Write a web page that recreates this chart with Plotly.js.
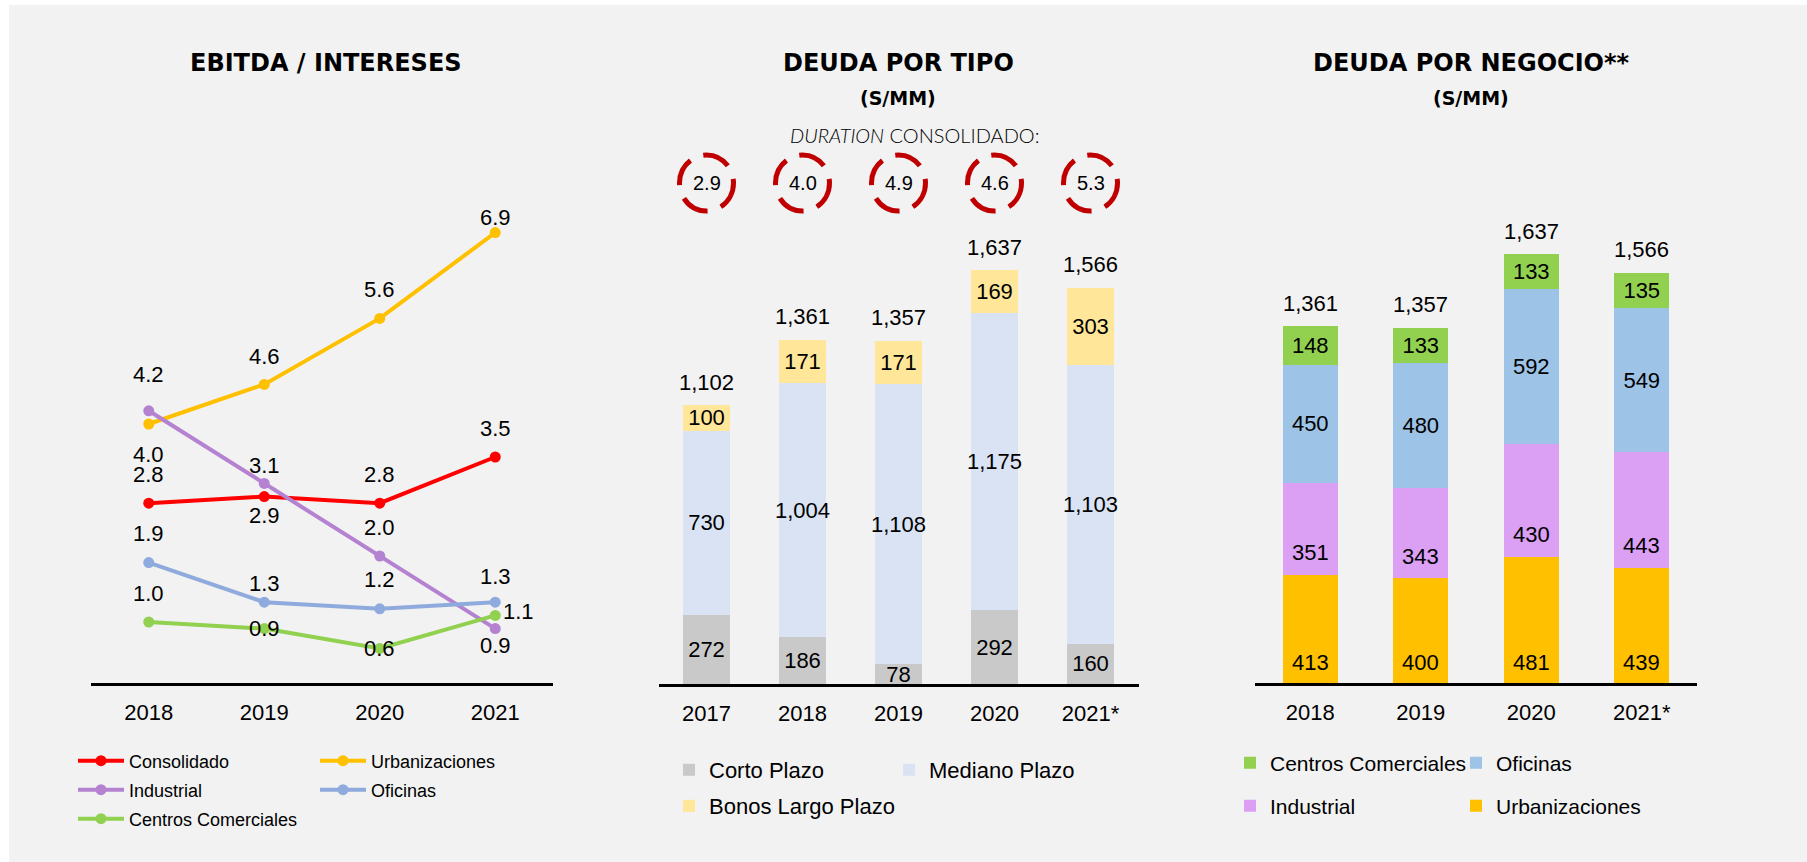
<!DOCTYPE html>
<html>
<head>
<meta charset="utf-8">
<script src="https://cdn.plot.ly/plotly-3.0.1.min.js"></script>
<style>
html,body{margin:0;padding:0;background:#ffffff;}
#chart{width:1807px;height:862px;}
</style>
</head>
<body>
<div id="chart"></div>
<script>
// ================= DATA =================
// EBITDA / INTERESES
const yearsRatio = ['2018', '2019', '2020', '2021'];
const consolidado = [2.8, 2.9, 2.8, 3.5];
const urbanizaciones = [4.0, 4.6, 5.6, 6.9];
const industrial = [4.2, 3.1, 2.0, 0.9];
const oficinas = [1.9, 1.3, 1.2, 1.3];
const centrosComerciales = [1.0, 0.9, 0.6, 1.1];

// DEUDA POR TIPO (S/MM)
const yearsTipo = ['2017', '2018', '2019', '2020', '2021*'];
const cortoPlazo = [272, 186, 78, 292, 160];
const medianoPlazo = [730, 1004, 1108, 1175, 1103];
const bonosLargoPlazo = [100, 171, 171, 169, 303];
const totalTipo = [1102, 1361, 1357, 1637, 1566];
const durationConsolidado = [2.9, 4.0, 4.9, 4.6, 5.3];

// DEUDA POR NEGOCIO (S/MM)
const yearsNegocio = ['2018', '2019', '2020', '2021*'];
const negUrbanizaciones = [413, 400, 481, 439];
const negIndustrial = [351, 343, 430, 443];
const negOficinas = [450, 480, 592, 549];
const negCentros = [148, 133, 133, 135];
const totalNegocio = [1361, 1357, 1637, 1566];

// ================= STYLE / LAYOUT HELPERS =================
const W = 1807, H = 862;
const px = v => v / W;
const py = v => 1 - v / H;
const FONT = 'Arial, "Liberation Sans", sans-serif';
const TITLE_FONT = '"DejaVu Sans", Verdana, sans-serif';
const fmt = v => v.toLocaleString('en-US');

// label offsets (pixels) for the line-chart value labels: [dx, dy(up)]
const offConsolidado = [[0, 29], [0, -19], [0, 29], [0, 29]];
const offUrbanizaciones = [[0, -30], [0, 28], [0, 29], [0, 15]];
const offIndustrial = [[0, 36], [0, 18], [0, 29], [0, -17]];
const offOficinas = [[0, 29], [0, 19], [0, 29], [0, 26]];
const offCentros = [[0, 29], [0, 0], [0, 0], [23, 4]];

const lineSeries = [
  {name: 'Consolidado', y: consolidado, color: '#FF0000', off: offConsolidado, legend: 'legend'},
  {name: 'Urbanizaciones', y: urbanizaciones, color: '#FFC000', off: offUrbanizaciones, legend: 'legend'},
  {name: 'Industrial', y: industrial, color: '#B482D0', off: offIndustrial, legend: 'legend2'},
  {name: 'Oficinas', y: oficinas, color: '#8FAADC', off: offOficinas, legend: 'legend2'},
  {name: 'Centros Comerciales', y: centrosComerciales, color: '#92D050', off: offCentros, legend: 'legend3'}
];

const traces = [];
const annotations = [];
const labelFont = {family: FONT, size: 22, color: '#000'};

function ann(o) {
  return Object.assign({showarrow: false, xanchor: 'center', yanchor: 'middle'}, o);
}

lineSeries.forEach(s => {
  traces.push({
    type: 'scatter', mode: 'lines+markers', name: s.name,
    x: yearsRatio, y: s.y, xaxis: 'x', yaxis: 'y',
    line: {color: s.color, width: 4}, marker: {color: s.color, size: 11},
    cliponaxis: false, legend: s.legend, hoverinfo: 'x+y+name'
  });
  s.y.forEach((v, i) => {
    annotations.push(ann({
      xref: 'x', yref: 'y', x: i, y: v, text: v.toFixed(1),
      xshift: s.off[i][0], yshift: s.off[i][1], font: labelFont
    }));
  });
});

function barTrace(name, x, y, color, xa, ya, legend, showText) {
  return {
    type: 'bar', name: name, x: x, y: y, xaxis: xa, yaxis: ya,
    marker: {color: color, line: {width: 0}},
    text: y.map(fmt), textposition: showText ? 'inside' : 'none',
    insidetextanchor: 'middle', textangle: 0, constraintext: 'none',
    textfont: labelFont, insidetextfont: labelFont, cliponaxis: false,
    legend: legend, hoverinfo: 'x+y+name'
  };
}

// middle chart
traces.push(barTrace('Corto Plazo', yearsTipo, cortoPlazo, '#C9C9C9', 'x2', 'y2', 'legend4', true));
traces.push(barTrace('Mediano Plazo', yearsTipo, medianoPlazo, '#DAE3F3', 'x2', 'y2', 'legend4', true));
traces.push(barTrace('Bonos Largo Plazo', yearsTipo, bonosLargoPlazo, '#FFE699', 'x2', 'y2', 'legend5', true));

// right chart
traces.push(barTrace('Urbanizaciones', yearsNegocio, negUrbanizaciones, '#FFC000', 'x3', 'y3', 'legend7', false));
traces.push(barTrace('Industrial', yearsNegocio, negIndustrial, '#DB9FF4', 'x3', 'y3', 'legend7', false));
traces.push(barTrace('Oficinas', yearsNegocio, negOficinas, '#9DC3E6', 'x3', 'y3', 'legend6', true));
traces.push(barTrace('Centros Comerciales', yearsNegocio, negCentros, '#92D050', 'x3', 'y3', 'legend6', true));

// bottom-anchored labels of the two lower segments (right chart)
negUrbanizaciones.forEach((v, i) => annotations.push(ann({
  xref: 'x3', yref: 'y3', x: i, y: 0, text: fmt(v), yshift: 21, font: labelFont
})));
negIndustrial.forEach((v, i) => annotations.push(ann({
  xref: 'x3', yref: 'y3', x: i, y: negUrbanizaciones[i], text: fmt(v), yshift: 22, font: labelFont
})));

// totals
totalTipo.forEach((v, i) => annotations.push(ann({
  xref: 'x2', yref: 'y2', x: i, y: v, text: fmt(v), yshift: 23, font: labelFont
})));
totalNegocio.forEach((v, i) => annotations.push(ann({
  xref: 'x3', yref: 'y3', x: i, y: v, text: fmt(v), yshift: 23, font: labelFont
})));

// duration circle numbers
durationConsolidado.forEach((v, i) => annotations.push(ann({
  xref: 'x2', yref: 'paper', x: i, y: py(183), text: v.toFixed(1),
  font: {family: FONT, size: 20, color: '#000'}
})));

// titles
const titleFont = {family: TITLE_FONT, size: 24, color: '#000', weight: 'bold'};
const subFont = {family: TITLE_FONT, size: 19, color: '#000', weight: 'bold'};
annotations.push(ann({xref: 'paper', yref: 'paper', x: px(326), y: py(63), text: 'EBITDA / INTERESES', font: titleFont}));
annotations.push(ann({xref: 'paper', yref: 'paper', x: px(898), y: py(63), text: 'DEUDA POR TIPO', font: titleFont}));
annotations.push(ann({xref: 'paper', yref: 'paper', x: px(898), y: py(98), text: '(S/MM)', font: subFont}));
annotations.push(ann({xref: 'paper', yref: 'paper', x: px(914), y: py(135), text: '<i>DURATION</i> CONSOLIDADO:',
  font: {family: 'Lato, "Open Sans", sans-serif', size: 20, color: '#000', weight: 300}}));
annotations.push(ann({xref: 'paper', yref: 'paper', x: px(1471), y: py(63), text: 'DEUDA POR NEGOCIO**', font: titleFont}));
annotations.push(ann({xref: 'paper', yref: 'paper', x: px(1471), y: py(98), text: '(S/MM)', font: subFont}));

// shapes
const shapes = [{
  type: 'rect', xref: 'paper', yref: 'paper', x0: px(9), x1: 1, y0: 0, y1: py(5),
  fillcolor: '#F2F2F2', line: {width: 0}, layer: 'below'
}];
durationConsolidado.forEach((v, i) => shapes.push({
  type: 'circle', xref: 'x2', yref: 'paper', xsizemode: 'pixel', ysizemode: 'pixel',
  xanchor: i, yanchor: py(183), x0: -27, x1: 27, y0: -28, y1: 28,
  line: {color: '#C00000', width: 5, dash: '28px,14px'}, layer: 'above'
}));

const tickFont = {family: FONT, size: 22, color: '#000'};
function xAxis(dom, n, anchor) {
  return {domain: [px(dom[0]), px(dom[1])], anchor: anchor, type: 'category', range: [-0.5, n - 0.5],
    showline: true, linecolor: '#000', linewidth: 3, ticks: '', showgrid: false, zeroline: false,
    tickfont: tickFont, ticklabelstandoff: 8, fixedrange: true};
}
// bottom: pixel row of the plot bottom, zero: pixel row of value 0, top: pixel row of plot top
function yAxis(bottom, zero, top, scale, anchor) {
  return {domain: [py(bottom), py(top)], anchor: anchor,
    range: [(zero - bottom) / scale, (zero - top) / scale],
    visible: false, showgrid: false, zeroline: false, fixedrange: true};
}

function legendRow(xPix, yPix, size, entry, itemwidth, order) {
  return {x: px(xPix), y: py(yPix), xanchor: 'left', yanchor: 'middle', orientation: 'h',
    bgcolor: 'rgba(0,0,0,0)', borderwidth: 0, font: {family: FONT, size: size, color: '#000'},
    entrywidth: entry, entrywidthmode: 'pixels', itemwidth: itemwidth, traceorder: order,
    itemclick: false, itemdoubleclick: false};
}

const layout = {
  width: W, height: H, margin: {l: 0, r: 0, t: 0, b: 0},
  paper_bgcolor: '#FFFFFF', plot_bgcolor: 'rgba(0,0,0,0)',
  barmode: 'stack', bargap: 0.506,
  showlegend: true,
  xaxis: xAxis([91, 553], 4, 'y'),
  yaxis: yAxis(683, 688, 140, 66, 'x'),
  xaxis2: xAxis([658.5, 1138.5], 5, 'y2'),
  yaxis2: yAxis(684, 684, 140, 0.2529, 'x2'),
  xaxis3: xAxis([1255, 1697], 4, 'y3'),
  yaxis3: yAxis(683, 683, 140, 0.262, 'x3'),
  legend: legendRow(73, 761, 18, 181, 46, 'normal'),
  legend2: legendRow(73, 790, 18, 181, 46, 'normal'),
  legend3: legendRow(73, 819, 18, 181, 46, 'normal'),
  legend4: legendRow(669, 770, 22, 175, 30, 'normal'),
  legend5: legendRow(669, 806, 22, 260, 30, 'normal'),
  legend6: legendRow(1230, 763, 21, 181, 30, 'reversed'),
  legend7: legendRow(1230, 806, 21, 181, 30, 'reversed'),
  annotations: annotations,
  shapes: shapes,
  hovermode: 'closest'
};

Plotly.newPlot('chart', traces, layout, {displayModeBar: false, responsive: false});
</script>
</body>
</html>
